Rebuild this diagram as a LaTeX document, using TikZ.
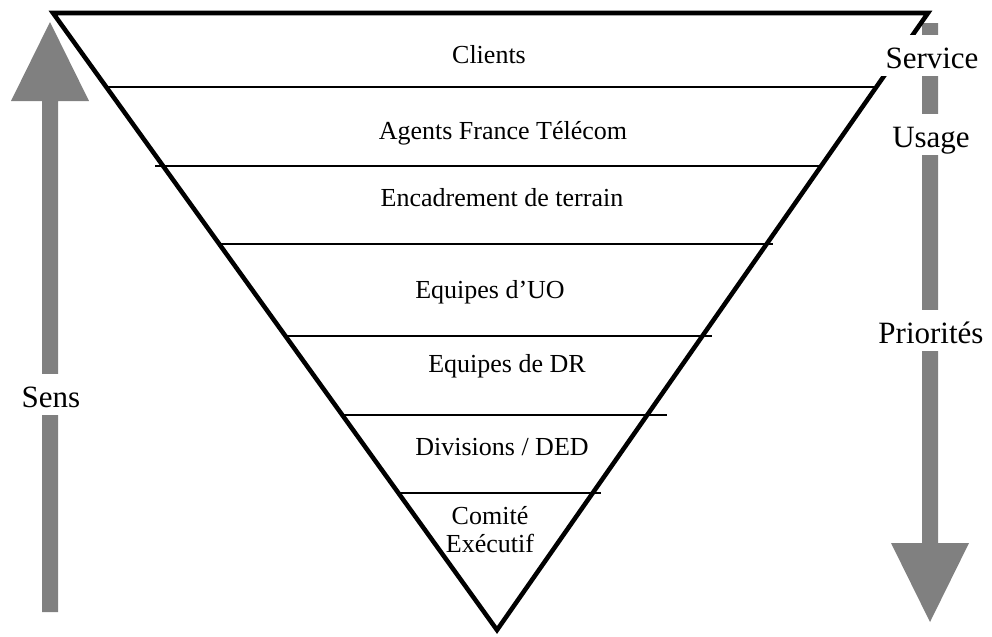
\documentclass[tikz,border=0pt]{standalone}
\usepackage{fontspec}
\setmainfont{Liberation Serif}
\usepackage{tikz}
\usetikzlibrary{positioning}
\definecolor{ArrowGray}{HTML}{808080}
\tikzset{
  layerlabel/.style={font=\fontsize{19.5pt}{21pt}\selectfont, align=center, inner sep=0pt},
  sidelabel/.style={font=\fontsize{23.25pt}{26pt}\selectfont, fill=white, text height=21pt, text depth=2.3pt, inner sep=3.75pt, anchor=base},
  pyramid/.style={line width=3.4pt, line join=miter},
  layerline/.style={line width=1.5pt},
  bigarrow/.style={fill=ArrowGray}
}

\begin{document}
\begin{tikzpicture}[x=0.75pt, y=-0.75pt]
  \useasboundingbox (0,0) rectangle (992,636);

  % arrows on both sides
  \fill[bigarrow] (42,612) -- (42,101) -- (11,101) -- (50,22) -- (89,101) -- (58,101) -- (58,612) -- cycle;
  \fill[bigarrow] (922,23) -- (938,23) -- (938,543) -- (969,543) -- (930,622) -- (891,543) -- (922,543) -- cycle;

  % inverted pyramid
  \draw[pyramid] (53,13) -- (928,13) -- (497,630) -- cycle;
  \foreach \y/\xa/\xb in {87/108/878, 166/155/822, 244/220/773, 336/285/712, 415/340/667, 493/397/601}
    \draw[layerline] (\xa,\y) -- (\xb,\y);

  % layers
  \node[layerlabel, anchor=base] (clients) at (489,63) {Clients};
  \node[layerlabel, anchor=base] (agents) at (503,139) {Agents France Télécom};
  \node[layerlabel, anchor=base] (encadrement) at (502,206) {Encadrement de terrain};
  \node[layerlabel, anchor=base] (equipesuo) at (490,298) {Equipes d’UO};
  \node[layerlabel, anchor=base] (equipesdr) at (507,372) {Equipes de DR};
  \node[layerlabel, anchor=base] (divisions) at (502,455) {Divisions / DED};
  \node[layerlabel] (comex) at (490,530) {Comité\\Exécutif};

  % side labels
  \node[sidelabel] (sens) at (51,407) {Sens};
  \node[sidelabel] (service) at (932,68) {Service};
  \node[sidelabel] (usage) at (931,147) {Usage};
  \node[sidelabel] (priorites) at (931,343) {Priorités};
\end{tikzpicture}
\end{document}
